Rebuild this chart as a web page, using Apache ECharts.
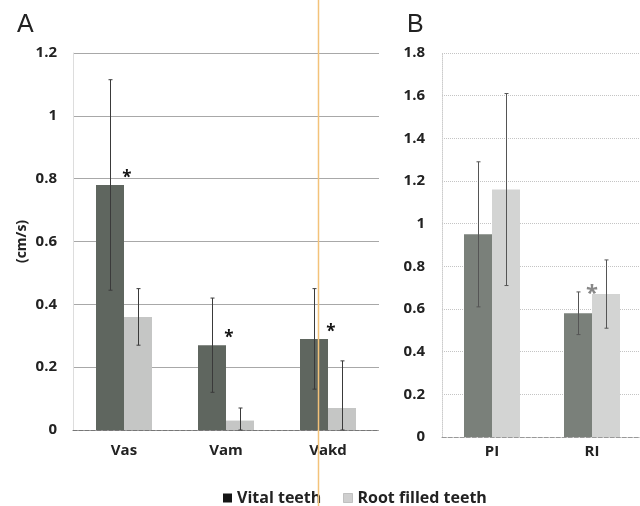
<!DOCTYPE html>
<html>
<head>
<meta charset="utf-8">
<script src="https://cdn.jsdelivr.net/npm/echarts@6/dist/echarts.min.js"></script>
<style>
html,body{margin:0;padding:0;background:#fff;}
#chart{width:640px;height:506px;}
</style>
</head>
<body>
<div id="chart"></div>
<script>
// ---- Data ----
const categoriesA = ['Vas', 'Vam', 'Vakd'];
const vitalA = [0.78, 0.27, 0.29];
const rootA = [0.36, 0.03, 0.07];
const vitalErrA = [0.335, 0.15, 0.16];
const rootErrA = [0.09, 0.04, 0.15];
const starA = [1, 1, 1]; // asterisk next to vital bar

const categoriesB = ['PI', 'RI'];
const vitalB = [0.95, 0.58];
const rootB = [1.16, 0.67];
const vitalErrB = [0.34, 0.10];
const rootErrB = [0.45, 0.16];
const starB = [0, 1]; // asterisk next to root bar

const ticksA = [0, 0.2, 0.4, 0.6, 0.8, 1, 1.2];
const ticksB = [0, 0.2, 0.4, 0.6, 0.8, 1, 1.2, 1.4, 1.6, 1.8];

const seriesNames = ['Vital teeth', 'Root filled teeth'];

// ---- Build ----
const BW = 28;
const font = '"Open Sans", "Noto Sans", sans-serif';

function errData(vals, errs, side) {
  return vals.map((v, i) => [i, v, errs[i], side]);
}
function errRender(color) {
  return function (params, api) {
    const cat = api.value(0), mean = api.value(1), err = api.value(2), side = api.value(3);
    const c = api.coord([cat, mean]);
    const x = Math.round(c[0] + (side ? BW / 2 : -BW / 2)) + 0.5;
    const top = api.coord([cat, mean + err])[1];
    const bot = api.coord([cat, Math.max(0, mean - err)])[1];
    const st = { stroke: color, lineWidth: 1 };
    return {
      type: 'group',
      children: [
        { type: 'line', shape: { x1: x, y1: top, x2: x, y2: bot }, style: st },
        { type: 'line', shape: { x1: x - 2, y1: top, x2: x + 2, y2: top }, style: st },
        { type: 'line', shape: { x1: x - 2, y1: bot, x2: x + 2, y2: bot }, style: st }
      ]
    };
  };
}
function starRender(color, size, dx, dy) {
  return function (params, api) {
    const c = api.coord([api.value(0), api.value(1)]);
    return {
      type: 'text',
      x: c[0] + dx, y: c[1] + dy,
      style: { text: '*', fill: color, font: 'bold ' + size + 'px ' + font, align: 'center', verticalAlign: 'middle' }
    };
  };
}

const starDataA = [];
starA.forEach((s, i) => { if (s) starDataA.push([i, vitalA[i]]); });
const starDataB = [];
starB.forEach((s, i) => { if (s) starDataB.push([i, rootB[i]]); });

function fmt(v) { return String(parseFloat(v.toFixed(1))); }

const chart = echarts.init(document.getElementById('chart'), null, { renderer: 'canvas' });
chart.setOption({
  animation: false,
  backgroundColor: '#ffffff',
  textStyle: { fontFamily: font },
  title: [
    { text: 'A', left: 12, top: 8, textStyle: { fontSize: 25, fontWeight: 'normal', color: '#222', fontFamily: '"Liberation Sans", Arial, sans-serif' } },
    { text: 'B', left: 402, top: 8, textStyle: { fontSize: 25, fontWeight: 'normal', color: '#222', fontFamily: '"Liberation Sans", Arial, sans-serif' } }
  ],
  legend: {
    left: 218, top: 485, itemWidth: 9, itemHeight: 9, itemGap: 22, icon: 'rect',
    textStyle: { fontSize: 16, fontWeight: 'bold', color: '#222', fontFamily: font },
    data: [
      { name: seriesNames[0], itemStyle: { color: '#151515' } },
      { name: seriesNames[1], itemStyle: { color: '#cfcfcf', borderColor: '#999', borderWidth: 0.5 } }
    ]
  },
  grid: [
    { left: 73, top: 53, width: 306, height: 377, outerBoundsMode: 'none', containLabel: false },
    { left: 442, top: 53, width: 200, height: 384, outerBoundsMode: 'none', containLabel: false }
  ],
  xAxis: [
    { type: 'category', gridIndex: 0, data: categoriesA,
      axisLine: { lineStyle: { color: '#777', type: 'dashed', width: 1 } }, axisTick: { show: false },
      axisLabel: { margin: 13, fontSize: 15, fontWeight: 'bold', color: '#222' } },
    { type: 'category', gridIndex: 1, data: categoriesB,
      axisLine: { lineStyle: { color: '#999', type: 'dashed', width: 1 } }, axisTick: { show: false },
      axisLabel: { margin: 7, fontSize: 15, fontWeight: 'bold', color: '#222' } }
  ],
  yAxis: [
    { type: 'value', gridIndex: 0, min: ticksA[0], max: ticksA[ticksA.length - 1], interval: 0.2,
      name: '(cm/s)', nameLocation: 'middle', nameGap: 44, nameRotate: 90,
      nameTextStyle: { fontSize: 14, fontWeight: 'bold', color: '#222' },
      axisLine: { show: true, lineStyle: { color: '#ddd' } }, axisTick: { show: false },
      axisLabel: { margin: 16, fontSize: 15, fontWeight: 'bold', color: '#222', formatter: fmt },
      splitLine: { lineStyle: { color: '#a8a8a8', width: 1 } } },
    { type: 'value', gridIndex: 1, min: ticksB[0], max: ticksB[ticksB.length - 1], interval: 0.2,
      axisLine: { show: true, lineStyle: { color: '#ccc', type: 'dotted' } }, axisTick: { show: false },
      axisLabel: { margin: 17, fontSize: 15, fontWeight: 'bold', color: '#222', formatter: fmt },
      splitLine: { lineStyle: { color: '#c4c4c4', width: 1, type: 'dotted' } } }
  ],
  series: [
    { name: seriesNames[0], type: 'bar', xAxisIndex: 0, yAxisIndex: 0, data: vitalA, barWidth: BW, barGap: '0%',
      itemStyle: { color: '#5f665f' } },
    { name: seriesNames[1], type: 'bar', xAxisIndex: 0, yAxisIndex: 0, data: rootA, barWidth: BW, barGap: '0%',
      itemStyle: { color: '#c5c6c5' } },
    { name: seriesNames[0], type: 'bar', xAxisIndex: 1, yAxisIndex: 1, data: vitalB, barWidth: BW, barGap: '0%',
      itemStyle: { color: '#7a807a' } },
    { name: seriesNames[1], type: 'bar', xAxisIndex: 1, yAxisIndex: 1, data: rootB, barWidth: BW, barGap: '0%',
      itemStyle: { color: '#d3d4d3' } },
    { type: 'custom', xAxisIndex: 0, yAxisIndex: 0, renderItem: errRender('#3a3a3a'), data: errData(vitalA, vitalErrA, 0), z: 5, silent: true },
    { type: 'custom', xAxisIndex: 0, yAxisIndex: 0, renderItem: errRender('#3a3a3a'), data: errData(rootA, rootErrA, 1), z: 5, silent: true },
    { type: 'custom', xAxisIndex: 1, yAxisIndex: 1, renderItem: errRender('#555'), data: errData(vitalB, vitalErrB, 0), z: 5, silent: true },
    { type: 'custom', xAxisIndex: 1, yAxisIndex: 1, renderItem: errRender('#555'), data: errData(rootB, rootErrB, 1), z: 5, silent: true },
    { type: 'custom', xAxisIndex: 0, yAxisIndex: 0, renderItem: starRender('#111', 17, 3, -7), data: starDataA, z: 6, silent: true },
    { type: 'custom', xAxisIndex: 1, yAxisIndex: 1, renderItem: starRender('#888', 22, 0, 0), data: starDataB, z: 6, silent: true }
  ],
  graphic: [
    { type: 'line', shape: { x1: 318.5, y1: 0, x2: 318.5, y2: 506 }, style: { stroke: '#f3c27a', lineWidth: 1.5 }, z: 100, silent: true }
  ]
});
</script>
</body>
</html>
